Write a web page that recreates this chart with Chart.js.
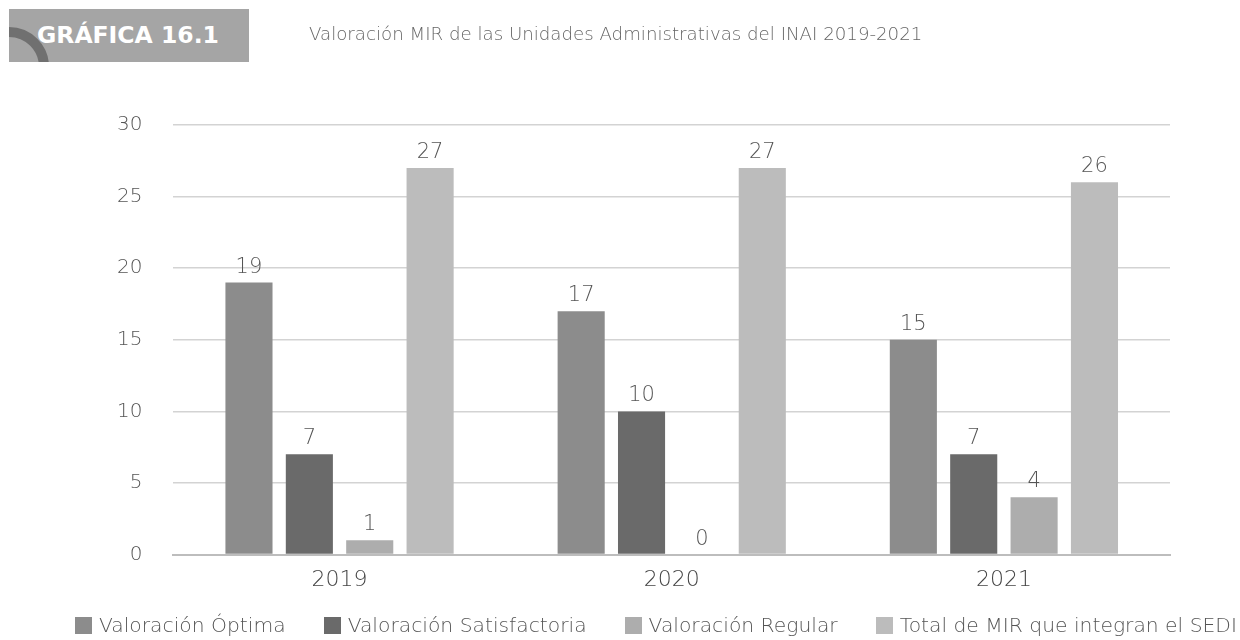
<!DOCTYPE html>
<html lang="es">
<head>
<meta charset="utf-8">
<title>Valoración MIR</title>
<script src="https://cdn.jsdelivr.net/npm/chart.js@4.4.1/dist/chart.umd.min.js"></script>
<style>
    body { margin: 0; background: #fff; font-family: 'DejaVu Sans', sans-serif; }
    .wrap { position: relative; width: 1240px; height: 640px; }
    .badge {
        position: absolute; left: 9px; top: 9px; width: 240px; height: 53px;
        background: #a5a5a5; overflow: hidden;
    }
    .badge .arc {
        position: absolute; left: -40px; top: 18px; width: 80px; height: 80px;
        border: 10px solid #707070; border-radius: 50%; box-sizing: border-box;
    }
    .badge span {
        position: absolute; left: 28px; top: 12px; color: #fff;
        font: bold 23.5px 'DejaVu Sans', sans-serif;
    }
    .subtitle {
        position: absolute; left: 309px; top: 23px; color: #666;
        font: 200 18.2px 'DejaVu Sans', sans-serif;
    }
    #leyenda {
        position: absolute; left: 75px; top: 613px; width: 1162px; display: flex;
        justify-content: space-between;
        font: 200 20.3px 'DejaVu Sans', sans-serif; color: #555; white-space: nowrap;
    }
    #leyenda .item { display: flex; align-items: center; }
    #leyenda .caja { width: 17px; height: 17px; margin-right: 7px; }
    #chartMir { position: absolute; left: 0; top: 0; }
</style>
</head>
<body>
<div class="wrap">
    <canvas id="chartMir" width="1240" height="640"></canvas>
    <div class="badge"><div class="arc"></div><span>GRÁFICA 16.1</span></div>
    <div class="subtitle">Valoración MIR de las Unidades Administrativas del INAI 2019-2021</div>
    <div id="leyenda"></div>
</div>
<script>
const anios = ['2019', '2020', '2021'];
const optima = [19, 17, 15];
const satisfactoria = [7, 10, 7];
const regular = [1, 0, 4];
const totalMir = [27, 27, 26];

const fuente = 'DejaVu Sans';

// etiqueta con el valor encima de cada barra
const etiquetasValor = {
    id: 'etiquetasValor',
    afterDatasetsDraw(chart) {
        const ctx = chart.ctx;
        ctx.save();
        ctx.font = '200 21px "DejaVu Sans", sans-serif';
        ctx.fillStyle = '#555';
        ctx.textAlign = 'center';
        ctx.textBaseline = 'alphabetic';
        chart.data.datasets.forEach((ds, i) => {
            chart.getDatasetMeta(i).data.forEach((bar, j) => {
                ctx.fillText(ds.data[j], bar.x, bar.y - 10);
            });
        });
        ctx.restore();
    }
};

const grafica = new Chart(document.getElementById('chartMir').getContext('2d'), {
    type: 'bar',
    data: {
        labels: anios,
        datasets: [
            { label: 'Valoración Óptima', backgroundColor: '#8c8c8c', data: optima },
            { label: 'Valoración Satisfactoria', backgroundColor: '#6a6a6a', data: satisfactoria },
            { label: 'Valoración Regular', backgroundColor: '#adadad', data: regular },
            { label: 'Total de MIR que integran el SEDI', backgroundColor: '#bcbcbc', data: totalMir }
        ]
    },
    options: {
        responsive: false,
        animation: false,
        layout: { padding: { top: 125, left: 86, right: 70, bottom: 43 } },
        datasets: { bar: { categoryPercentage: 0.727, barPercentage: 0.78 } },
        plugins: {
            legend: { display: false },
            tooltip: { enabled: false }
        },
        scales: {
            x: {
                grid: { display: false },
                border: { color: '#bdbdbd', width: 2 },
                ticks: { color: '#444', font: { family: fuente, size: 22, weight: '200' }, padding: 4 }
            },
            y: {
                min: 0,
                max: 30,
                ticks: { stepSize: 5, color: '#555', padding: 31, font: { family: fuente, size: 20, weight: '200' } },
                grid: { color: '#d3d3d3', lineWidth: 1.5, drawTicks: false },
                border: { display: false }
            }
        }
    },
    plugins: [etiquetasValor]
});

// leyenda en una sola fila, armada desde los datasets
const leyenda = document.getElementById('leyenda');
grafica.data.datasets.forEach(ds => {
    const item = document.createElement('div');
    item.className = 'item';
    item.innerHTML = `<span class="caja" style="background:${ds.backgroundColor}"></span>${ds.label}`;
    leyenda.appendChild(item);
});
</script>
</body>
</html>
